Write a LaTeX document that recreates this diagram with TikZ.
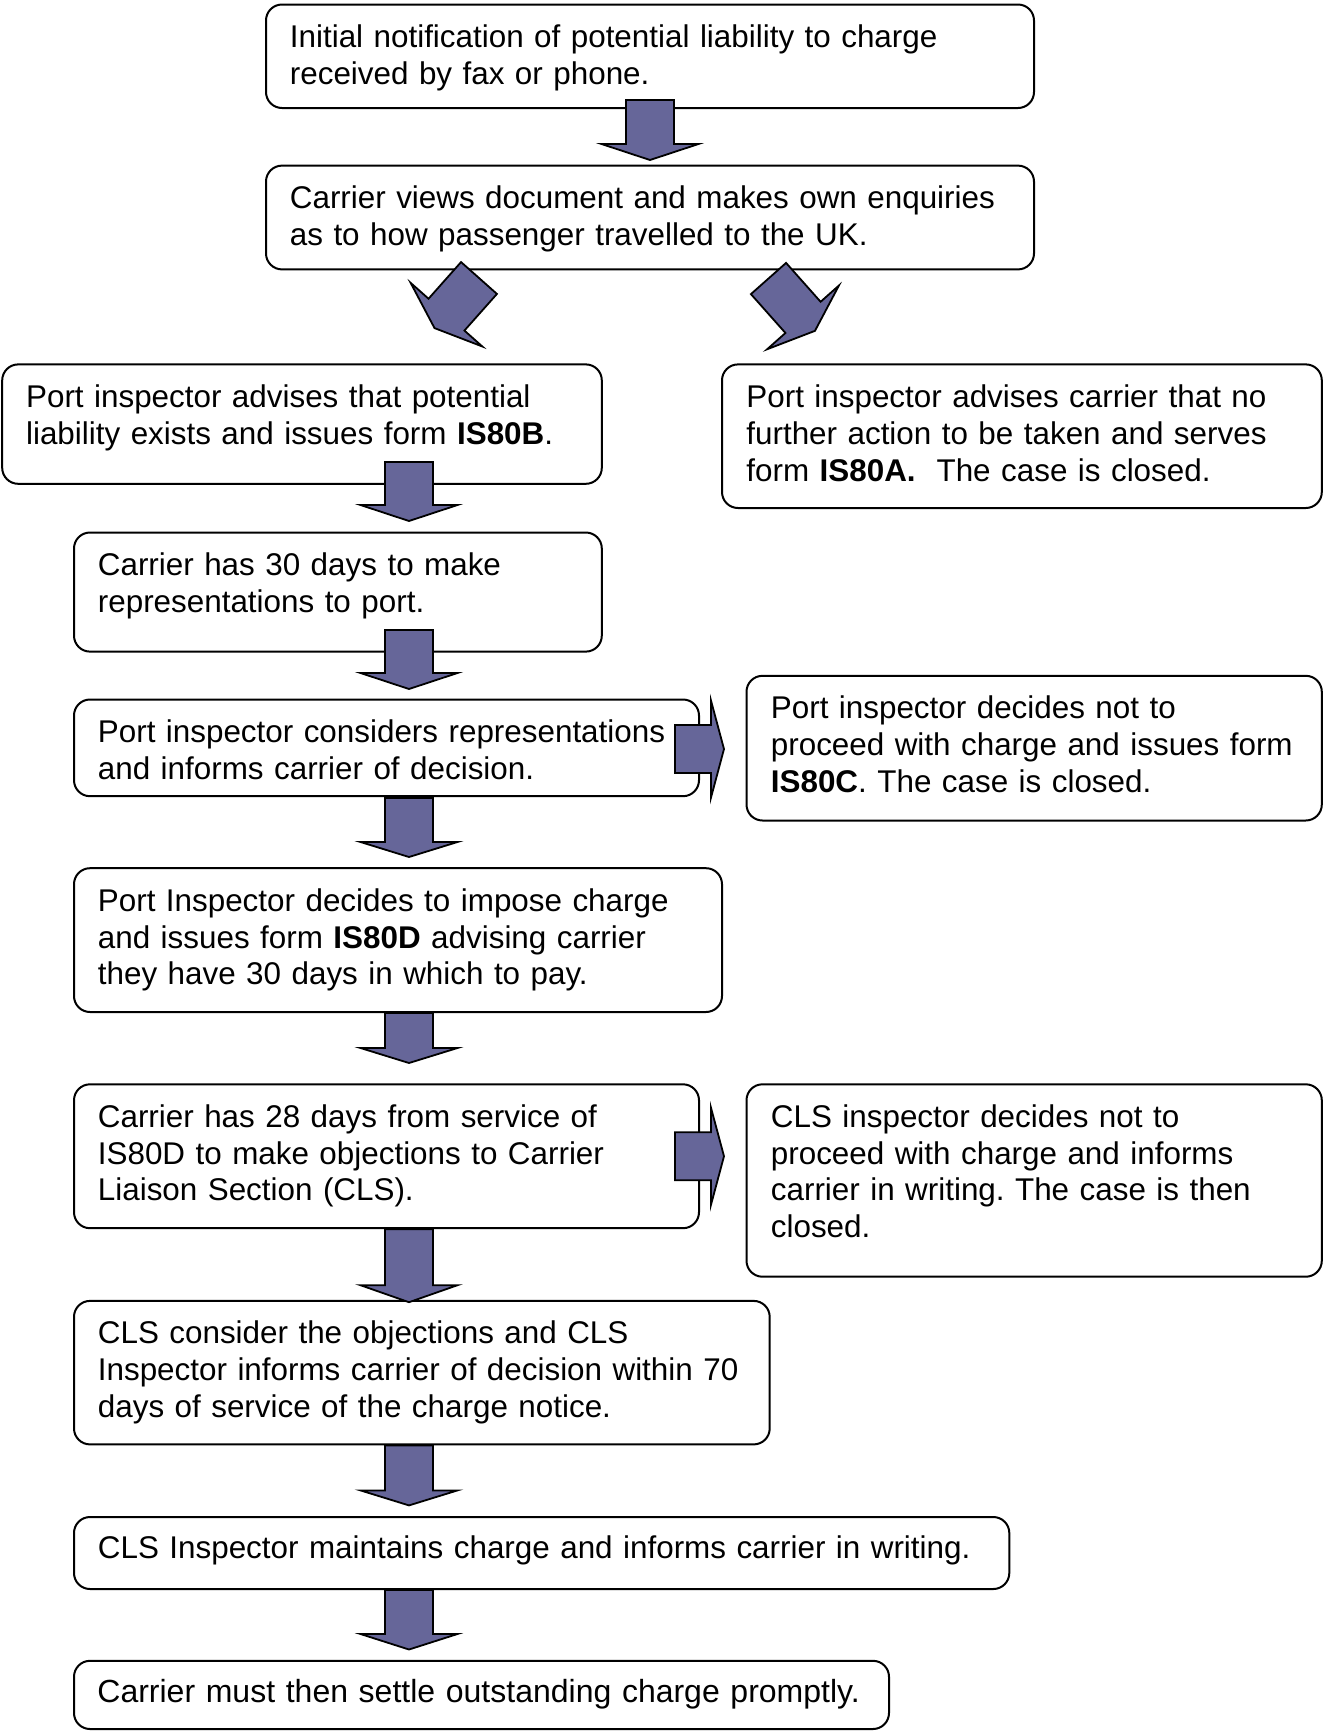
\documentclass[tikz,border=0pt]{standalone}
\usepackage{fontspec}
\setmainfont{Liberation Sans}
\frenchspacing
\usetikzlibrary{calc,fit}
\definecolor{arrowfill}{HTML}{666699}
\tikzset{
  box/.style={draw=black, line width=1pt, rounded corners=8pt, fill=white, inner sep=0pt},
  txt/.style={anchor=base west, inner sep=0pt, align=left, text width=640pt,
    font=\fontsize{15.7}{18.4}\selectfont},
  blockarrow/.style={draw=black, line width=0.9pt, fill=arrowfill, line join=miter},
}
% #1 tail point, #2 angle, #3 shaft width, #4 shaft length, #5 head width, #6 head length
\newcommand\blockarr[6]{%
  \begin{scope}[shift={#1}, rotate=#2]
    \draw[blockarrow] ({-#3/2},0) -- ({#3/2},0) -- ({#3/2},#4) -- ({#5/2},#4)
      -- (0,{#4+#6}) -- ({-#5/2},#4) -- ({-#3/2},#4) -- cycle;
  \end{scope}}
\begin{document}
\begin{tikzpicture}[x=0.5pt, y=-0.5pt]
\fill[white] (0,0) rectangle (1323,1731);
\useasboundingbox (0,0) rectangle (1323,1731);

% boxes
\node[box, fit={(266,4.5) (1034,108)}] (b1) {};
\node[box, fit={(266,165.6) (1034,269.4)}] (b2) {};
\node[box, fit={(2.2,364.4) (601.8,483.8)}] (b3) {};
\node[box, fit={(722,364.4) (1321.8,508)}] (b4) {};
\node[box, fit={(74,532.5) (601.8,651.6)}] (b5) {};
\node[box, fit={(74,699.5) (699,796.2)}] (b6) {};
\node[box, fit={(746.5,675.8) (1321.8,820.5)}] (b7) {};
\node[box, fit={(74,868.2) (722,1012)}] (b8) {};
\node[box, fit={(74,1084.3) (699,1228.2)}] (b9) {};
\node[box, fit={(746.5,1084.3) (1321.8,1276.7)}] (b10) {};
\node[box, fit={(74,1300.9) (769.7,1444.4)}] (b11) {};
\node[box, fit={(74,1517) (1009.3,1589)}] (b12) {};
\node[box, fit={(74,1660.8) (889,1729)}] (b13) {};

% texts
\node[txt] (t1) at ($(b1.north west)+(24.5,44)$) {Initial notification of potential liability to charge\\received by fax or phone.};
\node[txt] (t2) at ($(b2.north west)+(24.5,44)$) {Carrier views document and makes own enquiries\\as to how passenger travelled to the UK.};
\node[txt] (t3) at ($(b3.north west)+(24.5,44)$) {Port inspector advises that potential\\liability exists and issues form \textbf{IS80B}.};
\node[txt] (t4) at ($(b4.north west)+(25,44)$) {Port inspector advises carrier that no\\further action to be taken and serves\\form \textbf{IS80A.}\ \ The case is closed.};
\node[txt] (t5) at ($(b5.north west)+(24.5,44)$) {Carrier has 30 days to make\\representations to port.};
\node[txt] (t6) at ($(b6.north west)+(24.5,44)$) {Port inspector considers representations\\and informs carrier of decision.};
\node[txt] (t7) at ($(b7.north west)+(25,44)$) {Port inspector decides not to\\proceed with charge and issues form\\\textbf{IS80C}. The case is closed.};
\node[txt] (t8) at ($(b8.north west)+(24.5,44)$) {Port Inspector decides to impose charge\\and issues form \textbf{IS80D} advising carrier\\they have 30 days in which to pay.};
\node[txt] (t9) at ($(b9.north west)+(24.5,44)$) {Carrier has 28 days from service of\\IS80D to make objections to Carrier\\Liaison Section (CLS).};
\node[txt] (t10) at ($(b10.north west)+(25,44)$) {CLS inspector decides not to\\proceed with charge and informs\\carrier in writing. The case is then\\closed.};
\node[txt] (t11) at ($(b11.north west)+(24.5,44)$) {CLS consider the objections and CLS\\Inspector informs carrier of decision within 70\\days of service of the charge notice.};
\node[txt] (t12) at ($(b12.north west)+(24.5,42.5)$) {CLS Inspector maintains charge and informs carrier in writing.};
\node[txt, font=\fontsize{16}{18.4}\selectfont] (t13) at ($(b13.north west)+(24,42.5)$) {Carrier must then settle outstanding charge promptly.};

% block arrows (connectors)
\blockarr{($(b1.south)+(0,-9)$)}{0}{48}{44}{97}{16}
\blockarr{($(b2.south west)+(214,7.6)$)}{-41.6}{48}{49}{96}{18}
\blockarr{($(b2.south west)+(503.5,8.1)$)}{41.6}{47}{52}{96}{18}
\blockarr{($(b3.south west)+(407.8,-22.8)$)}{0}{48}{43}{97}{16}
\blockarr{($(b5.south west)+(336,-22.6)$)}{0}{48}{43}{97}{16}
\blockarr{($(b6.south west)+(336,0.8)$)}{0}{48}{44}{97}{15}
\blockarr{($(b8.south west)+(336,0)$)}{0}{48}{35}{97}{15}
\blockarr{($(b9.south west)+(336,0)$)}{0}{48}{56}{97}{17}
\blockarr{($(b11.south west)+(336,0)$)}{0}{48}{45}{97}{15}
\blockarr{($(b12.south west)+(336,0)$)}{0}{48}{44}{97}{15.5}
\blockarr{($(b6.east)+(-25,1.2)$)}{90}{48}{36}{97}{13}
\blockarr{($(b9.east)+(-25,0)$)}{90}{48}{36}{97}{13}
\end{tikzpicture}
\end{document}
